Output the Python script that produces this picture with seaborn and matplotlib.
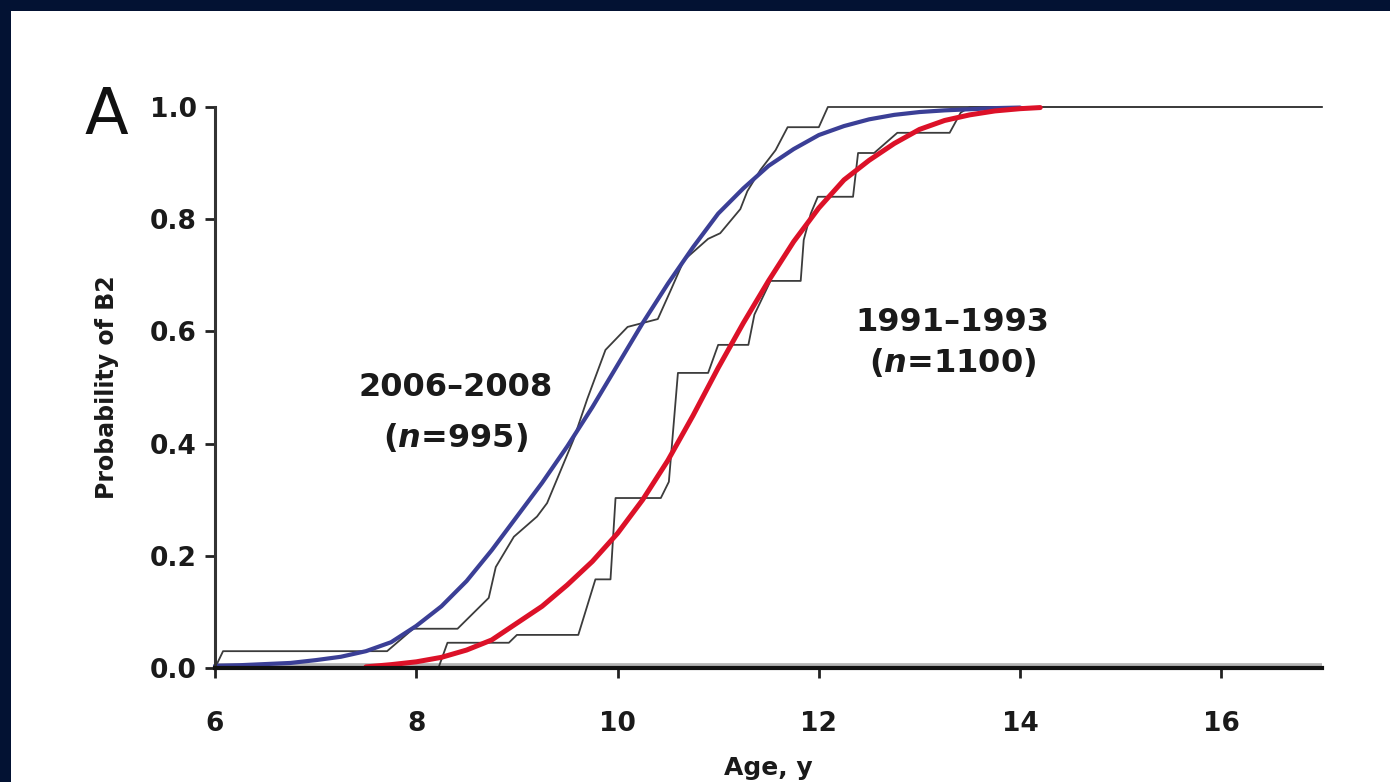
import matplotlib
matplotlib.use('Agg')
import matplotlib.pyplot as plt
import seaborn as sns

# smooth fitted curves
blue_age = [6.0, 6.25, 6.5, 6.75, 7.0, 7.25, 7.5, 7.75, 8.0, 8.25, 8.5, 8.75, 9.0, 9.25, 9.5, 9.75,
            10.0, 10.25, 10.5, 10.75, 11.0, 11.25, 11.5, 11.75, 12.0, 12.25, 12.5, 12.75, 13.0,
            13.25, 13.5, 13.75, 14.0]
blue_prob = [0.004, 0.005, 0.007, 0.009, 0.014, 0.02, 0.03, 0.046, 0.075, 0.11, 0.155, 0.21, 0.27,
             0.33, 0.395, 0.465, 0.54, 0.615, 0.685, 0.75, 0.81, 0.855, 0.895, 0.925, 0.95, 0.966,
             0.978, 0.986, 0.991, 0.994, 0.996, 0.998, 0.999]

red_age = [7.5, 7.75, 8.0, 8.25, 8.5, 8.75, 9.0, 9.25, 9.5, 9.75, 10.0, 10.25, 10.5, 10.75, 11.0,
           11.25, 11.5, 11.75, 12.0, 12.25, 12.5, 12.75, 13.0, 13.25, 13.5, 13.75, 14.0, 14.2]
red_prob = [0.002, 0.006, 0.011, 0.019, 0.032, 0.05, 0.08, 0.11, 0.148, 0.19, 0.24, 0.30, 0.37,
            0.45, 0.535, 0.615, 0.69, 0.76, 0.82, 0.87, 0.905, 0.935, 0.96, 0.976, 0.986, 0.993,
            0.997, 0.999]

# observed proportions (thin step lines)
blue_step_age = [6.0, 6.08, 7.71, 7.97, 8.41, 8.72, 8.79, 8.97, 9.2, 9.3, 9.56, 9.7, 9.88, 10.1,
                 10.4, 10.53, 10.66, 10.9, 11.02, 11.22, 11.29, 11.42, 11.57, 11.69, 12.0, 12.09, 17.0]
blue_step_prob = [0.0, 0.03, 0.03, 0.07, 0.07, 0.125, 0.18, 0.234, 0.27, 0.294, 0.406, 0.48, 0.567,
                  0.608, 0.622, 0.674, 0.727, 0.765, 0.775, 0.818, 0.85, 0.888, 0.923, 0.964, 0.964,
                  1.0, 1.0]

red_step_age = [6.0, 8.22, 8.31, 8.92, 9.0, 9.61, 9.78, 9.93, 9.98, 10.43, 10.51, 10.6, 10.9, 11.0,
                11.3, 11.36, 11.52, 11.82, 11.85, 11.92, 11.99, 12.34, 12.39, 12.55, 12.78, 13.3,
                13.41, 13.5, 17.0]
red_step_prob = [0.0, 0.0, 0.045, 0.045, 0.059, 0.059, 0.158, 0.158, 0.303, 0.303, 0.332, 0.526,
                 0.526, 0.576, 0.576, 0.63, 0.69, 0.69, 0.763, 0.81, 0.84, 0.84, 0.918, 0.918,
                 0.954, 0.954, 0.99, 1.0, 1.0]

x_ticks = [6, 8, 10, 12, 14, 16]
y_ticks = [0.0, 0.2, 0.4, 0.6, 0.8, 1.0]

sns.set_style('ticks')
plt.rcParams['font.family'] = ['DejaVu Sans']
plt.rcParams['mathtext.fontset'] = 'custom'
plt.rcParams['mathtext.it'] = 'DejaVu Sans:italic:bold'

fig = plt.figure(figsize=(13.9, 7.82), dpi=100)
fig.patch.set_facecolor('#031233')
fig.add_artist(plt.Rectangle((11 / 1390, 0), 1, 1 - 11 / 782, transform=fig.transFigure,
                             facecolor='white', edgecolor='none', zorder=-10))
ax = fig.add_axes([215 / 1390, 1 - 668 / 782, 1107 / 1390, 561 / 782])
ax.set_facecolor('none')

step_kw = dict(estimator=None, sort=False, color='#3c3c3c', linewidth=1.3, ax=ax, legend=False)
sns.lineplot(x=blue_step_age, y=blue_step_prob, **step_kw)
sns.lineplot(x=red_step_age, y=red_step_prob, **step_kw)
sns.lineplot(x=blue_age, y=blue_prob, estimator=None, sort=False, color='#3b3f96',
             linewidth=3.0, ax=ax, legend=False)
sns.lineplot(x=red_age, y=red_prob, estimator=None, sort=False, color='#dc1128',
             linewidth=3.6, ax=ax, legend=False)
for ln in ax.lines:
    ln.set_clip_on(False)

# grey shadow under the x axis
ax.axhline(0, color='#b5b5b5', linewidth=7, zorder=0.5)

ax.set_xlim(6, 17)
ax.set_ylim(0, 1)
ax.set_xticks(x_ticks)
ax.set_yticks(y_ticks)
ax.set_yticklabels([f'{v:.1f}' for v in y_ticks])
sns.despine(ax=ax)
ax.spines['left'].set_linewidth(2.2)
ax.spines['left'].set_color('#333333')
ax.spines['bottom'].set_linewidth(3)
ax.spines['bottom'].set_color('#111111')
ax.tick_params(axis='both', direction='out', length=7, width=2, color='#222222',
               labelsize=19, pad=6)
for lab in ax.get_xticklabels() + ax.get_yticklabels():
    lab.set_fontweight('bold')
    lab.set_color('#1a1a1a')
ax.tick_params(axis='x', pad=24)

ax.set_xlabel('Age, y', fontsize=18, fontweight='bold', labelpad=14, color='#1a1a1a')
ax.set_ylabel('Probability of B2', fontsize=17, fontweight='bold', labelpad=22, color='#1a1a1a')

ax.text(8.39, 0.50, '2006\u20132008', fontsize=23, fontweight='bold', ha='center', va='center',
        color='#1a1a1a')
ax.text(8.39, 0.41, '($n$=995)', fontsize=23, fontweight='bold', ha='center', va='center',
        color='#1a1a1a')
ax.text(13.33, 0.616, '1991\u20131993', fontsize=23, fontweight='bold', ha='center', va='center',
        color='#1a1a1a')
ax.text(13.33, 0.545, '($n$=1100)', fontsize=23, fontweight='bold', ha='center', va='center',
        color='#1a1a1a')

fig.text(106 / 1390, 1 - 116 / 782, 'A', fontsize=46, ha='center', va='center', color='#111111')

fig.savefig('out.png', dpi=100, facecolor=fig.get_facecolor())
